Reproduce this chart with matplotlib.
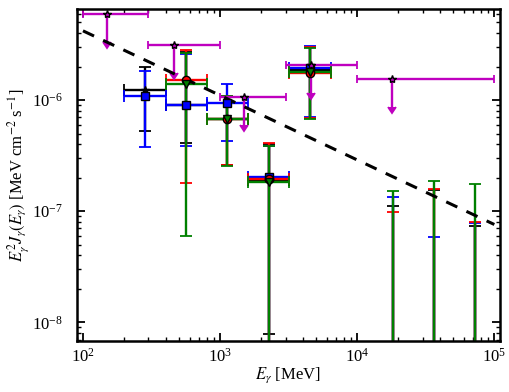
import numpy as np
import matplotlib.pyplot as plt

plt.rcParams['font.family'] = ['Liberation Serif', 'DejaVu Serif']
plt.rcParams['mathtext.fontset'] = 'stix'

# Energy bins (MeV)
e_mid = np.array([283, 566, 1131, 2263, 4525, 18100, 36200, 72400])
e_lo = np.array([200, 400, 800, 1600, 3200, 18100, 36200, 72400])
e_hi = np.array([400, 800, 1600, 3200, 6400, 18100, 36200, 72400])

# Fluxes E^2 J (value, lower, upper) for each analysis
f_black = np.array([1.24e-6, 9.1e-7, 6.7e-7, 1.9e-7, 1.86e-6, 2e-9, 2e-9, 2e-9])
lo_black = np.array([5.26e-7, 4.1e-7, 2.6e-7, 7.9e-9, 6.9e-7, 1e-10, 1e-10, 1e-10])
hi_black = np.array([1.98e-6, 2.7e-6, 1.1e-6, 4.0e-7, 3.0e-6, 1.12e-7, 1.55e-7, 7.4e-8])

f_blue = np.array([1.09e-6, 9.0e-7, 9.34e-7, 2.04e-7, 1.93e-6, 2e-9, 2e-9, 2e-9])
lo_blue = np.array([3.77e-7, 3.86e-7, 4.3e-7, 1e-10, 7.1e-7, 1e-10, 1e-10, 1e-10])
hi_blue = np.array([1.82e-6, 2.6e-6, 1.39e-6, 3.9e-7, 3.06e-6, 1.33e-7, 5.9e-8, 7.8e-8])

f_red = np.array([np.nan, 1.51e-6, 6.8e-7, 1.95e-7, 1.76e-6, 2e-9, 2e-9, 2e-9])
lo_red = np.array([np.nan, 1.79e-7, 2.6e-7, 1e-10, 6.9e-7, 1e-10, 1e-10, 1e-10])
hi_red = np.array([np.nan, 2.82e-6, 1.1e-6, 4.1e-7, 3.0e-6, 9.8e-8, 1.57e-7, 8.05e-8])

f_green = np.array([np.nan, 1.41e-6, 6.7e-7, 1.84e-7, 1.8e-6, 2e-9, 2e-9, 2e-9])
lo_green = np.array([np.nan, 5.98e-8, 2.55e-7, 1e-10, 6.7e-7, 1e-10, 1e-10, 1e-10])
hi_green = np.array([np.nan, 2.65e-6, 1.08e-6, 3.9e-7, 2.95e-6, 1.53e-7, 1.87e-7, 1.76e-7])

# Upper limits (magenta)
e_ul = np.array([150, 460, 1490, 4635, 17900])
e_ul_lo = np.array([100, 300, 1000, 3000, 10000])
e_ul_hi = np.array([300, 1000, 3000, 10000, 100000])
f_ul = np.array([5.93e-6, 3.13e-6, 1.07e-6, 2.07e-6, 1.55e-6])

# Power-law model (end points)
line_e = [100, 1e5]
line_f = [4.2e-6, 7.6e-8]

fig = plt.figure(figsize=(5.1, 3.92), dpi=100)
ax = fig.add_axes([0.1504, 0.1301, 0.83, 0.8469])

series = [
    (f_black, lo_black, hi_black, 'k', '*', 6),
    (f_blue, lo_blue, hi_blue, 'blue', 's', 6),
    (f_red, lo_red, hi_red, 'red', 'o', 6),
    (f_green, lo_green, hi_green, 'green', 'v', 6),
]
for f, lo, hi, c, m, ms in series:
    ax.errorbar(e_mid, f, yerr=[f - lo, hi - f], xerr=[e_mid - e_lo, e_hi - e_mid],
                fmt=m, color=c, mec='k', ms=ms, elinewidth=1.7, capsize=4.5, capthick=1.3)

ax.errorbar(e_ul, f_ul, yerr=f_ul * 0.438, xerr=[e_ul - e_ul_lo, e_ul_hi - e_ul],
            uplims=True, fmt='*', color='m', mfc='m', mec='k', ms=6,
            elinewidth=1.7, capsize=3, capthick=1.3)

ax.plot(line_e, line_f, 'k--', lw=2.2, dashes=(4, 3.3))

ax.set_xscale('log')
ax.set_yscale('log')
ax.set_xlim(90, 1.1e5)
ax.set_ylim(6.8e-9, 6.6e-6)

ax.tick_params(which='both', direction='in', top=True, right=True, labelsize=12)
ax.tick_params(which='major', length=6, width=1.3)
ax.tick_params(which='minor', length=3, width=1)
ax.tick_params(axis='y', pad=10)
ax.tick_params(axis='x', pad=5)
for s in ax.spines.values():
    s.set_linewidth(1.8)

ax.set_xlabel(r'$E_\gamma$ [MeV]', fontsize=12, labelpad=0)
ax.set_ylabel(r'$E_\gamma^2 J_\gamma(E_\gamma)$ [MeV cm$^{-2}$ s$^{-1}$]', fontsize=12, labelpad=1)

fig.savefig('out.png', dpi=100)
